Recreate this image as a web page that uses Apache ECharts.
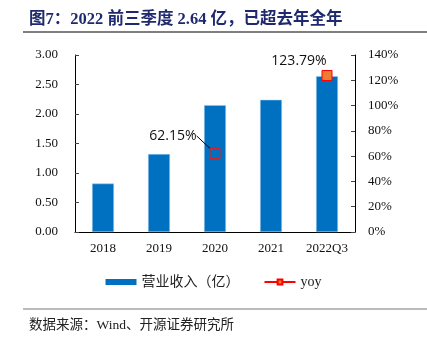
<!DOCTYPE html>
<html><head><meta charset="utf-8">
<script src="https://cdn.jsdelivr.net/npm/echarts@6/dist/echarts.min.js"></script>
<style>html,body{margin:0;padding:0;background:#fff}#c{width:427px;height:341px}</style>
</head><body><div id="c"></div>
<script>
const categories = ['2018','2019','2020','2021','2022Q3'];
const revenue = [0.82, 1.32, 2.15, 2.24, 2.64];
const yoy = [null, null, 62.15, null, 123.79];
const leftTicks = ['0.00','0.50','1.00','1.50','2.00','2.50','3.00'];
const rightTicks = ['0%','20%','40%','60%','80%','100%','120%','140%'];

const serif = '"Liberation Serif", "Noto Sans CJK SC", serif';
const yoyData = yoy.map((v, i) => {
  if (v === null) return null;
  if (i === 2) return {value: v, itemStyle: {color: 'rgba(0,0,0,0)', borderColor: '#E02020'}};
  return {value: v, labelLine: {show: false}};
});
const chart = echarts.init(document.getElementById('c'));
chart.setOption({
  animation: false,
  title: [{
    text: '图7：2022 前三季度 2.64 亿，已超去年全年',
    left: 24, top: 6,
    textStyle: {fontFamily: '"Liberation Serif", "Noto Sans CJK SC", serif', fontWeight: 'bold', fontSize: 16.5, color: '#1f2a6e'}
  },{
    text: '数据来源：Wind、开源证券研究所',
    left: 24, top: 314,
    textStyle: {fontFamily: serif, fontWeight: 'normal', fontSize: 13.5, color: '#222'}
  }],
  graphic: [
    {type: 'line', shape: {x1: 23, y1: 32, x2: 427, y2: 32}, style: {stroke: '#555', lineWidth: 1.5}},
    {type: 'line', shape: {x1: 23, y1: 309, x2: 427, y2: 309}, style: {stroke: '#777', lineWidth: 1}}
  ],
  grid: {left: 75, right: 72, top: 55, bottom: 109},
  legend: {
    bottom: 47, left: 'center', itemGap: 24,
    textStyle: {fontFamily: serif, fontSize: 14, color: '#222'},
    data: [
      {name: '营业收入（亿）', icon: 'rect', itemStyle: {color: '#0070C0', borderWidth: 0}},
      {name: 'yoy'}
    ],
    itemWidth: 31, itemHeight: 6
  },
  xAxis: {
    type: 'category', data: categories,
    axisLine: {lineStyle: {color: '#000'}},
    axisTick: {inside: true, alignWithLabel: false, length: 4, lineStyle: {color: '#444'}},
    axisLabel: {fontFamily: serif, fontSize: 13, color: '#111', margin: 10}
  },
  yAxis: [{
    type: 'value', min: 0, max: 3, interval: 0.5,
    axisLine: {show: true, lineStyle: {color: '#000'}},
    axisTick: {show: true, inside: true, length: 4, lineStyle: {color: '#444'}},
    splitLine: {show: false},
    axisLabel: {fontFamily: serif, fontSize: 13, color: '#111', margin: 17,
      formatter: (v) => leftTicks[Math.round(v / 0.5)]}
  },{
    type: 'value', min: 0, max: 140, interval: 20,
    axisLine: {show: true, lineStyle: {color: '#000'}},
    axisTick: {show: true, inside: true, length: 4, lineStyle: {color: '#444'}},
    splitLine: {show: false},
    axisLabel: {fontFamily: serif, fontSize: 13, color: '#111', margin: 13,
      formatter: (v) => rightTicks[Math.round(v / 20)]}
  }],
  series: [{
    name: '营业收入（亿）', type: 'bar', data: revenue, barWidth: '39%',
    itemStyle: {color: '#0070C0', borderColor: '#9cc8ea', borderWidth: 0.5}
  },{
    name: 'yoy', type: 'line', yAxisIndex: 1, data: yoyData, connectNulls: false,
    symbol: 'rect', symbolSize: 10,
    lineStyle: {color: '#FF0000', width: 2},
    itemStyle: {color: '#ED7D31', borderColor: '#FF0000', borderWidth: 1},
    label: {show: true, position: 'top', fontFamily: '"Open Sans", sans-serif', fontSize: 14, color: '#111',
      formatter: (p) => Number(p.value).toFixed(2) + '%'},
    labelLayout: (p) => {
      if (p.dataIndex === 2) return {dx: -42, dy: 0};
      return {dx: -28, dy: 3};
    },
    labelLine: {show: true, lineStyle: {color: '#000', width: 1}}
  }]
});
</script></body></html>
